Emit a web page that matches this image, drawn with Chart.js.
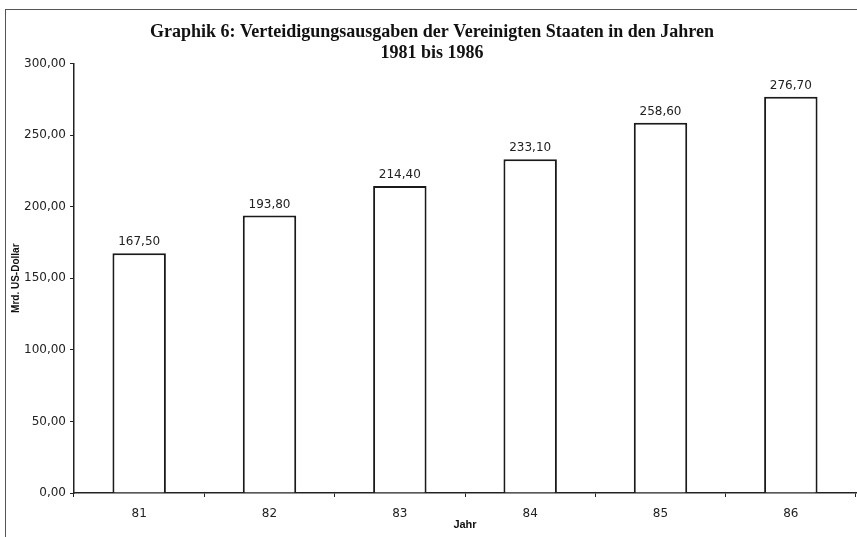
<!DOCTYPE html>
<html>
<head>
<meta charset="utf-8">
<script src="https://cdn.jsdelivr.net/npm/chart.js@4"></script>
<style>
  body { margin: 0; background: #fff; }
  #frame { position: absolute; left: 5px; top: 9px; width: 852px; height: 528px;
           border-left: 1px solid #555; border-top: 1px solid #555; }
  canvas { position: absolute; left: 0; top: 0; }
</style>
</head>
<body>
<div id="frame"></div>
<canvas class="myChart" width="857" height="537"></canvas>
<script>
const years = ["81", "82", "83", "84", "85", "86"];
const spending = [167.5, 193.8, 214.4, 233.1, 258.6, 276.7];
const titleLines = [
  "Graphik 6: Verteidigungsausgaben der Vereinigten Staaten in den Jahren",
  "1981 bis 1986"
];

const fmt = v => Number(v).toFixed(2).replace(".", ",");

// values above each bar
const barLabels = {
  id: "barLabels",
  afterDatasetsDraw(chart) {
    const ctx = chart.ctx;
    const meta = chart.getDatasetMeta(0);
    ctx.save();
    ctx.font = "12px 'DejaVu Sans'";
    ctx.fillStyle = "#222";
    ctx.textAlign = "center";
    ctx.textBaseline = "bottom";
    meta.data.forEach((bar, i) => {
      ctx.fillText(fmt(spending[i]), bar.x, bar.y - 5);
    });
    ctx.restore();
  }
};

const myChart = document.querySelector(".myChart").getContext("2d");

new Chart(myChart, {
  type: "bar",
  data: {
    labels: years,
    datasets: [{
      label: "Mrd. US-Dollar",
      data: spending,
      backgroundColor: "#fff",
      borderColor: "#1a1a1a",
      borderWidth: 2,
      barPercentage: 0.41,
      categoryPercentage: 1
    }]
  },
  options: {
    responsive: false,
    animation: false,
    layout: { padding: { left: 8, right: 1, top: 0, bottom: 0 } },
    plugins: {
      legend: { display: false },
      tooltip: { enabled: false },
      title: {
        display: true,
        text: titleLines,
        color: "#111",
        font: { family: "'Liberation Serif'", size: 18, weight: "bold", lineHeight: 1.15 },
        padding: { top: 22, bottom: 0 }
      }
    },
    scales: {
      x: {
        afterFit: s => { s.height = 44; },
        border: { color: "#222", width: 1.5 },
        grid: { drawOnChartArea: false, tickLength: 4, color: "#222" },
        ticks: { color: "#222", padding: 10, font: { family: "'DejaVu Sans'", size: 12 } },
        title: {
          display: true, text: "Jahr", color: "#111",
          font: { family: "'Liberation Sans'", size: 11, weight: "bold" },
          padding: { top: 0, bottom: 5 }
        }
      },
      y: {
        min: 0, max: 300,
        afterFit: s => { s.width = 66; },
        border: { color: "#222", width: 1.5 },
        grid: { drawOnChartArea: false, tickLength: 4, color: "#222" },
        ticks: {
          stepSize: 50, color: "#222", padding: 4,
          font: { family: "'DejaVu Sans'", size: 12 },
          callback: v => fmt(v)
        },
        title: {
          display: true, text: "Mrd. US-Dollar", color: "#111",
          font: { family: "'Liberation Sans'", size: 10, weight: "bold" },
          padding: { top: 2, bottom: 0 }
        }
      }
    }
  },
  plugins: [barLabels]
});
</script>
</body>
</html>
